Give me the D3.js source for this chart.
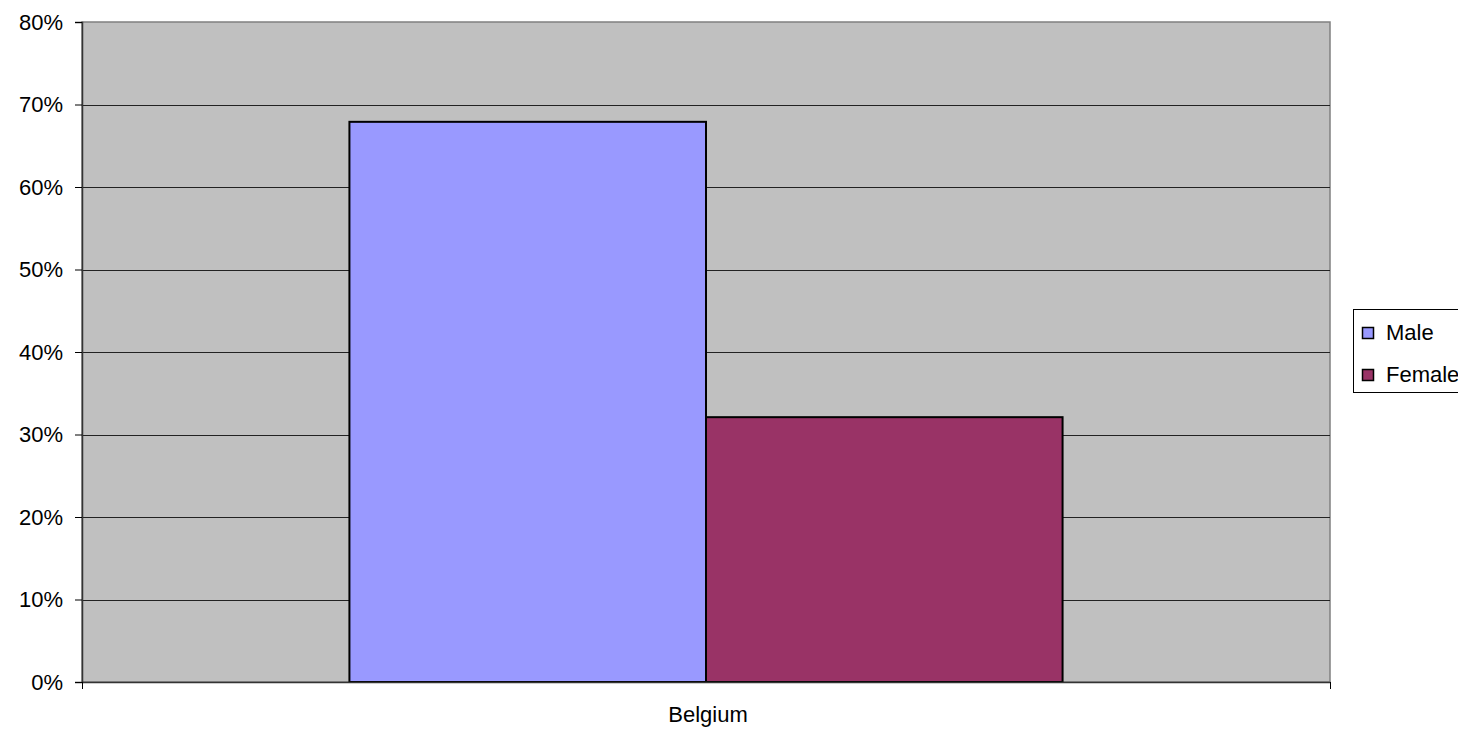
<!DOCTYPE html>
<html>
<head>
<meta charset="utf-8">
<script src="https://cdn.jsdelivr.net/npm/d3@7"></script>
<style>
  body { margin: 0; background: #fff; }
  svg { display: block; font-family: "Liberation Sans", Arial, sans-serif; }
</style>
</head>
<body>
<svg class="vis" width="1458" height="731"></svg>
<script>
const categories = ['Belgium'];
const seriesNames = ['Male', 'Female'];
const seriesColors = ['#9999ff', '#993366'];
const maleValues = [0.679];
const femaleValues = [0.321];
const yTicks = [0, 0.1, 0.2, 0.3, 0.4, 0.5, 0.6, 0.7, 0.8];

const v = {

    box : { left : 82, right : 1330, top : 22, bottom : 682 },
    fontSize : 22,

    render : () => {

        const b = v.box;
        const svg = d3.select('svg.vis');

        const rows = categories.map((c, i) => ({
            cat : c,
            vals : [maleValues[i], femaleValues[i]]
        }));

        const x0 = d3.scaleBand()
          .domain(categories)
          .range([b.left, b.right])
          .paddingInner(0)
          .paddingOuter(0.375);

        const x1 = d3.scaleBand()
          .domain(seriesNames)
          .range([0, x0.bandwidth()]);

        const y = d3.scaleLinear()
          .domain([0, 0.8])
          .range([b.bottom, b.top]);

        // plot background
        svg.append('rect')
          .attr('x', b.left).attr('y', b.top)
          .attr('width', b.right - b.left).attr('height', b.bottom - b.top)
          .attr('fill', '#c0c0c0')
          .attr('stroke', '#808080').attr('stroke-width', 1.5);

        // gridlines
        svg.append('g')
          .selectAll('line')
          .data(yTicks.filter(t => t > 0 && t < 0.8))
          .join('line')
          .attr('x1', b.left).attr('x2', b.right)
          .attr('y1', d => Math.round(y(d)) + 0.5)
          .attr('y2', d => Math.round(y(d)) + 0.5)
          .attr('stroke', '#222').attr('stroke-width', 1);

        // bars
        svg.append('g')
          .selectAll('g')
          .data(rows)
          .join('g')
          .attr('transform', d => `translate(${x0(d.cat)},0)`)
          .selectAll('rect')
          .data(d => d.vals.map((val, i) => ({ key : seriesNames[i], val : val, col : seriesColors[i] })))
          .join('rect')
          .attr('x', d => x1(d.key))
          .attr('y', d => y(d.val))
          .attr('width', x1.bandwidth())
          .attr('height', d => y(0) - y(d.val))
          .attr('fill', d => d.col)
          .attr('stroke', '#000').attr('stroke-width', 2);

        // y axis
        const yAxis = d3.axisLeft(y)
          .tickValues(yTicks)
          .tickFormat(d3.format('.0%'))
          .tickSize(7)
          .tickPadding(12);

        svg.append('g')
          .attr('transform', `translate(${b.left},0)`)
          .call(yAxis)
          .call(g => g.select('.domain').attr('stroke', '#333').attr('stroke-width', 1.5))
          .call(g => g.selectAll('.tick line').attr('stroke', '#000'))
          .call(g => g.selectAll('.tick text')
            .attr('font-size', v.fontSize).attr('fill', '#000')
            .attr('font-family', '"Liberation Sans", Arial, sans-serif'));

        // x axis
        const xAxis = d3.axisBottom(d3.scaleLinear().domain([0, 1]).range([b.left, b.right]))
          .tickValues([0, 1])
          .tickFormat('')
          .tickSize(7)
          .tickSizeOuter(0);

        svg.append('g')
          .attr('transform', `translate(0,${b.bottom})`)
          .call(xAxis)
          .call(g => g.select('.domain').attr('stroke', '#333').attr('stroke-width', 1.5))
          .call(g => g.selectAll('.tick line').attr('stroke', '#000'));

        svg.append('g')
          .selectAll('text')
          .data(categories)
          .join('text')
          .attr('x', d => x0(d) + x0.bandwidth() / 2 + 2)
          .attr('y', 722)
          .attr('text-anchor', 'middle')
          .attr('font-size', v.fontSize)
          .text(d => d);

        // legend
        const lg = svg.append('g');

        lg.append('rect')
          .attr('x', 1353.5).attr('y', 309.5)
          .attr('width', 120).attr('height', 83)
          .attr('fill', '#fff')
          .attr('stroke', '#000').attr('stroke-width', 1);

        const items = lg.selectAll('g.item')
          .data(seriesNames)
          .join('g')
          .attr('class', 'item')
          .attr('transform', (d, i) => `translate(1362,${327 + i * 42})`);

        items.append('rect')
          .attr('x', 0.5).attr('y', 0.5)
          .attr('width', 11).attr('height', 11)
          .attr('fill', (d, i) => seriesColors[i])
          .attr('stroke', '#000').attr('stroke-width', 1.5);

        items.append('text')
          .attr('x', 24).attr('y', 13)
          .attr('font-size', v.fontSize)
          .text(d => d);

    }

};

v.render();
</script>
</body>
</html>
